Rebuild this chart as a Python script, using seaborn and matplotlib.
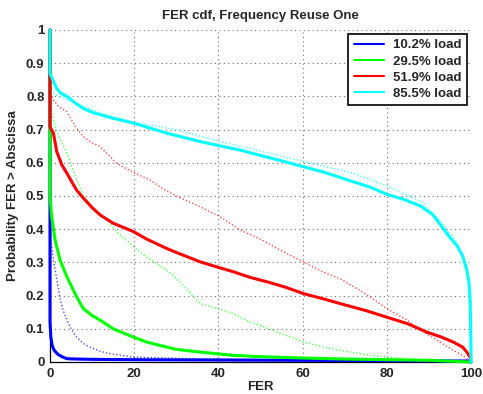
import matplotlib
matplotlib.use("Agg")
import matplotlib.pyplot as plt
import seaborn as sns
import numpy as np

# ---- data ----
labels = ["10.2% load", "29.5% load", "51.9% load", "85.5% load"]
colors = ["#0000ff", "#00ff00", "#ff0000", "#00ffff"]

blue_x = [0, 0, 0.2, 0.5, 1, 1.5, 2, 3, 4, 6, 10, 20, 40, 60, 80, 99.5, 100]
blue_y = [1, 0.12, 0.075, 0.05, 0.035, 0.028, 0.022, 0.015, 0.01, 0.009, 0.008, 0.007, 0.006, 0.005, 0.004, 0.003, 0]
blue_dx = [0, 0.3, 0.8, 1.6, 2.4, 3, 4, 5, 6.3, 8, 9.5, 12, 14.3, 17, 20, 25, 30, 40, 50, 60, 80, 100]
blue_dy = [0.42, 0.36, 0.307, 0.25, 0.19, 0.16, 0.126, 0.10, 0.075, 0.055, 0.045, 0.032, 0.025, 0.02, 0.015, 0.013, 0.011, 0.009, 0.007, 0.006, 0.004, 0.0]

green_x = [0, 0, 0.4, 1.2, 2.4, 4, 6.3, 7.9, 10, 11.9, 15, 19.8, 23, 27.7, 30, 35.6, 43.5, 50, 60, 70, 80, 90, 100]
green_y = [1, 0.5, 0.438, 0.368, 0.307, 0.257, 0.197, 0.161, 0.14, 0.126, 0.10, 0.075, 0.06, 0.045, 0.038, 0.03, 0.02, 0.016, 0.012, 0.009, 0.007, 0.005, 0]
green_dx = [0, 1, 2, 4, 6, 7.9, 9.5, 11, 13.5, 16, 19.8, 23, 27.7, 31, 35.6, 40, 43.5, 47.5, 50, 55, 60.2, 65, 68.9, 75, 80, 85, 90, 95, 100]
green_dy = [0.78, 0.72, 0.68, 0.63, 0.56, 0.50, 0.478, 0.45, 0.428, 0.39, 0.348, 0.315, 0.277, 0.24, 0.176, 0.16, 0.146, 0.12, 0.11, 0.085, 0.06, 0.045, 0.035, 0.022, 0.015, 0.01, 0.005, 0.003, 0]

red_x = [0, 0, 0.3, 0.8, 1.6, 2.8, 4, 6.3, 7.9, 10, 11.9, 15, 19.8, 23, 27.7, 30, 35.6, 40, 43.5, 47.5, 52, 56, 60.2, 65, 68.9, 75, 80, 85, 89.5, 93, 95.8, 98, 99, 100]
red_y = [1, 0.71, 0.70, 0.69, 0.634, 0.594, 0.569, 0.518, 0.494, 0.465, 0.443, 0.418, 0.393, 0.37, 0.342, 0.33, 0.302, 0.285, 0.272, 0.255, 0.24, 0.225, 0.206, 0.19, 0.176, 0.155, 0.135, 0.115, 0.09, 0.075, 0.06, 0.045, 0.03, 0.01]
red_dx = [0, 0.8, 2, 4, 6, 7.9, 10, 11.9, 15.9, 20, 23.8, 27, 30, 35.6, 40, 45.6, 50, 55, 60.2, 65, 68.9, 75, 80, 85, 88, 92, 95.8, 98, 100]
red_dy = [0.82, 0.79, 0.77, 0.754, 0.71, 0.679, 0.66, 0.649, 0.598, 0.57, 0.548, 0.52, 0.50, 0.468, 0.44, 0.395, 0.37, 0.335, 0.301, 0.27, 0.251, 0.205, 0.161, 0.125, 0.096, 0.065, 0.035, 0.02, 0.0]

cyan_x = [0, 0, 0.3, 1, 1.6, 2.5, 4, 6, 7.9, 10, 15, 20, 27.8, 35.7, 40, 45.6, 50, 55, 60.2, 65, 72, 76, 80, 84, 88, 91, 93.5, 95, 96.7, 98, 99, 99.5, 99.8, 100, 100]
cyan_y = [1, 0.87, 0.86, 0.84, 0.824, 0.81, 0.80, 0.78, 0.764, 0.752, 0.734, 0.719, 0.689, 0.664, 0.652, 0.637, 0.622, 0.606, 0.588, 0.572, 0.543, 0.527, 0.505, 0.49, 0.47, 0.443, 0.40, 0.375, 0.35, 0.32, 0.277, 0.24, 0.186, 0.05, 0]
cyan_dx = [0, 0.5, 2, 4, 8, 12, 20, 30, 40, 45.6, 50, 60, 72, 80, 88, 93.5, 96.7, 99, 99.9, 100]
cyan_dy = [0.83, 0.815, 0.80, 0.79, 0.77, 0.75, 0.722, 0.70, 0.665, 0.649, 0.635, 0.605, 0.569, 0.53, 0.485, 0.415, 0.36, 0.29, 0.2, 0]

x_ticks = [0, 20, 40, 60, 80, 100]
y_ticks = [0, 0.1, 0.2, 0.3, 0.4, 0.5, 0.6, 0.7, 0.8, 0.9, 1]
y_ticklabels = ["0", "0.1", "0.2", "0.3", "0.4", "0.5", "0.6", "0.7", "0.8", "0.9", "1"]

solid = [(blue_x, blue_y), (green_x, green_y), (red_x, red_y), (cyan_x, cyan_y)]
dotted = [(blue_dx, blue_dy), (green_dx, green_dy), (red_dx, red_dy), (cyan_dx, cyan_dy)]

# ---- figure ----
sns.set_style("white")
plt.rcParams["font.family"] = ["Liberation Sans", "DejaVu Sans"]
plt.rcParams["font.weight"] = "bold"
FS = 9.5

fig = plt.figure(figsize=(4.83, 3.94), dpi=100)
ax = fig.add_axes([50 / 483, 1 - 362 / 394, 421 / 483, 332 / 394])

for (dx, dy), c in zip(dotted, colors):
    sns.lineplot(x=dx, y=dy, ax=ax, color=c, linestyle=(0, (1, 1.5)), linewidth=1.0,
                 alpha=0.7, estimator=None, sort=False, legend=False, zorder=3, clip_on=False)
for (sx, sy), c, lab in zip(solid, colors, labels):
    sns.lineplot(x=sx, y=sy, ax=ax, color=c, linewidth=2.2, label=lab,
                 estimator=None, sort=False, zorder=4, clip_on=False)

ax.set_xlim(0, 100)
ax.set_ylim(0, 1)
ax.set_xticks(x_ticks)
ax.set_xticklabels([str(t) for t in x_ticks], fontsize=FS, fontweight="bold")
ax.set_yticks(y_ticks)
ax.set_yticklabels(y_ticklabels, fontsize=FS, fontweight="bold")
ax.tick_params(direction="in", length=3, width=0.8, color="black")
ax.tick_params(axis="x", pad=4)
ax.tick_params(axis="y", pad=4)
ax.grid(True, linestyle=(0, (1, 3)), color="#707070", linewidth=0.8)
for s in ["top", "right"]:
    ax.spines[s].set_visible(False)
for s in ["left", "bottom"]:
    ax.spines[s].set_color("black")
    ax.spines[s].set_linewidth(0.9)
    ax.spines[s].set_zorder(2.5)

ax.set_title("FER cdf, Frequency Reuse One", fontsize=FS, fontweight="bold", pad=8)
ax.set_xlabel("FER", fontsize=FS, fontweight="bold", labelpad=1)
ax.set_ylabel("Probability FER > Abscissa", fontsize=FS, fontweight="bold", labelpad=5)

leg = ax.legend(loc="upper right", bbox_to_anchor=(0.9905, 0.988), fancybox=False,
                framealpha=1, edgecolor="black", fontsize=FS, handlelength=2.3,
                handletextpad=0.7, borderpad=0.4, labelspacing=0.3, borderaxespad=0)
leg.get_frame().set_linewidth(1.2)
leg.set_zorder(10)
for t in leg.get_texts():
    t.set_fontweight("bold")
for l in leg.get_lines():
    l.set_linewidth(1.5)

fig.savefig("out.png", dpi=100)
